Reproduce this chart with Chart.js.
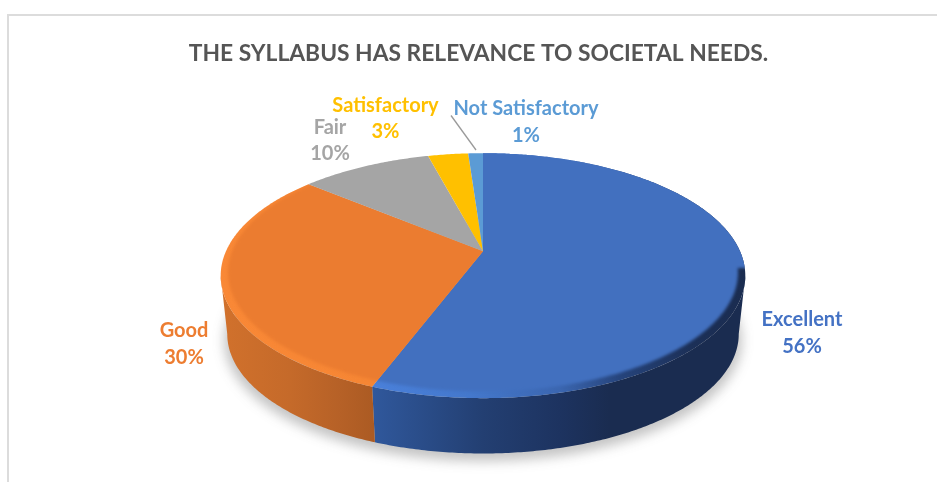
<!DOCTYPE html>
<html>
<head>
<meta charset="utf-8">
<style>
html,body{margin:0;padding:0;background:#fff;width:937px;height:482px;overflow:hidden}
#frame{position:absolute;left:7px;top:14px;right:0;bottom:0;border-left:2px solid #dcdcdc;border-top:2px solid #dcdcdc}
canvas{position:absolute;left:0;top:0}
</style>
<script src="https://cdn.jsdelivr.net/npm/chart.js@4"></script>
</head>
<body>
<div id="frame"></div>
<canvas id="c" width="937" height="482"></canvas>
<script>
const chartTitle = 'THE SYLLABUS HAS RELEVANCE TO SOCIETAL NEEDS.';
const categories = ['Excellent', 'Good', 'Fair', 'Satisfactory', 'Not Satisfactory'];
const percents = [55.7, 30.4, 9.8, 3, 1.1];
const sliceColors = ['#4270BF', '#EB7C30', '#A5A5A5', '#FFC000', '#5B9BD5'];
const labelColors = ['#4472C4', '#ED7D31', '#A5A5A5', '#FFC000', '#5B9BD5'];
const FONT = 'Lato, "Open Sans", sans-serif';

const PERSP = 0.2, TILT = 0.4575, RADIUS = 257, CX_SHIFT = 4.5;
const BOTTOM_SCALE = 0.975, BOTTOM_DROP = 59, INNER_SCALE = 0.972, INNER_LIFT = -2.7;

function project(el, th, f, dy) {
  const cx = el.x + CX_SHIFT, cy = el.y, R = RADIUS * f;
  const s = 1 / (1 + PERSP * Math.cos(th));
  return [cx + Math.sin(th) * R * s, cy + dy - TILT * Math.cos(th) * R * s];
}
function traceRim(ctx, el, a, b, f, dy, first) {
  const n = Math.max(2, Math.ceil(Math.abs(b - a) / 0.01));
  for (let i = 0; i <= n; i++) {
    const p = project(el, a + (b - a) * i / n, f, dy);
    if (i === 0 && first) ctx.moveTo(p[0], p[1]); else ctx.lineTo(p[0], p[1]);
  }
}
function slicePath(ctx, el, a, b) {
  ctx.beginPath();
  ctx.moveTo(el.x + CX_SHIFT, el.y);
  traceRim(ctx, el, a, b, 1, 0, false);
  ctx.closePath();
}
function wholePath(ctx, el, f, dy) {
  ctx.beginPath();
  traceRim(ctx, el, 0, Math.PI * 2, f, dy, true);
  ctx.closePath();
}
function hGrad(ctx, stops) {
  const g = ctx.createLinearGradient(221, 0, 746, 0);
  stops.forEach(s => g.addColorStop((s[0] - 221) / 525, s[1]));
  return g;
}

const pie3d = {
  id: 'pie3d',
  beforeDatasetDraw(chart) {
    const ctx = chart.ctx, arcs = chart.getDatasetMeta(0).data;
    const angle = el => [el.startAngle + Math.PI / 2, el.endAngle + Math.PI / 2];
    const el0 = arcs[0];
    const sideA = Math.PI - Math.acos(PERSP), sideB = Math.PI + Math.acos(PERSP);

    const wallFills = [
      hGrad(ctx, [[372, '#30589C'], [430, '#294B86'], [483, '#233F72'], [560, '#1D3360'], [610, '#1A2C50'], [746, '#1A2C50']]),
      hGrad(ctx, [[221, '#D1712C'], [290, '#C56A2A'], [340, '#B66127'], [372, '#AC5B23']])
    ];
    const rimFills = [
      hGrad(ctx, [[372, '#4A80DA'], [470, '#4478CC'], [560, '#3B66B0'], [620, '#26447C'], [690, '#1C3058'], [746, '#1A2C50']]),
      hGrad(ctx, [[221, '#F98836'], [372, '#F68634']])
    ];
    const rimFloor = [268, 0];

    // soft ground shadow
    ctx.save();
    ctx.filter = 'blur(6px)';
    ctx.fillStyle = 'rgba(60,60,60,0.30)';
    wholePath(ctx, el0, BOTTOM_SCALE * 1.012, BOTTOM_DROP + 6);
    ctx.fill();
    ctx.restore();

    // side walls of the two front slices
    arcs.forEach((el, i) => {
      const [a0, b0] = angle(el);
      const a = Math.max(a0, sideA), b = Math.min(b0, sideB);
      if (b <= a) return;
      ctx.beginPath();
      traceRim(ctx, el, a, b, 1, 0, true);
      traceRim(ctx, el, b, a, BOTTOM_SCALE, BOTTOM_DROP, false);
      ctx.closePath();
      ctx.fillStyle = wallFills[i] || sliceColors[i];
      ctx.fill();
    });

    // top faces, with a bevelled rim on the slices that have one
    arcs.forEach((el, i) => {
      const [a, b] = angle(el);
      slicePath(ctx, el, a, b);
      ctx.fillStyle = rimFills[i] || sliceColors[i];
      ctx.fill();
      if (rimFills[i]) {
        ctx.save();
        slicePath(ctx, el, a, b);
        ctx.clip();
        ctx.filter = 'blur(1.6px)';
        ctx.fillStyle = sliceColors[i];
        wholePath(ctx, el, INNER_SCALE, INNER_LIFT);
        ctx.rect(0, 0, chart.width, rimFloor[i]);
        ctx.fill('nonzero');
        ctx.restore();
      }
    });
    return false;
  },
  afterDraw(chart) {
    const ctx = chart.ctx;
    ctx.save();
    ctx.strokeStyle = '#9A9A9A';
    ctx.lineWidth = 1.3;
    ctx.beginPath();
    ctx.moveTo(451, 115.5);
    ctx.lineTo(476, 150);
    ctx.stroke();
    const spots = [[802, 320, 347], [184, 331, 358], [330, 128, 154], [385.5, 106, 132], [526, 109, 136]];
    ctx.font = 'bold 20px ' + FONT;
    ctx.textAlign = 'center';
    ctx.textBaseline = 'middle';
    categories.forEach((name, i) => {
      ctx.fillStyle = labelColors[i];
      ctx.fillText(name, spots[i][0], spots[i][1]);
      ctx.fillText(Math.round(percents[i]) + '%', spots[i][0], spots[i][2]);
    });
    ctx.restore();
  }
};

new Chart(document.getElementById('c'), {
  type: 'pie',
  data: {
    labels: categories,
    datasets: [{ data: percents, backgroundColor: sliceColors, borderWidth: 0 }]
  },
  options: {
    responsive: false,
    animation: false,
    layout: { padding: { left: 20, right: 0, top: 0, bottom: 47 } },
    plugins: {
      legend: { display: false },
      tooltip: { enabled: false },
      title: {
        display: true,
        text: chartTitle,
        color: '#555555',
        font: { family: FONT, size: 22.8, weight: 'bold' },
        padding: { top: 40, bottom: 0 }
      }
    }
  },
  plugins: [pie3d]
});
</script>
</body>
</html>
